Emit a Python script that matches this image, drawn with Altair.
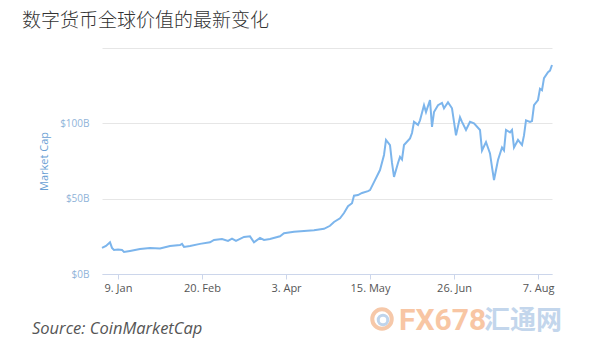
import altair as alt
import pandas as pd

# ---- data ----
dates = [
    "2017-01-01", "2017-01-03", "2017-01-05", "2017-01-06", "2017-01-07", "2017-01-09",
    "2017-01-11", "2017-01-12", "2017-01-15", "2017-01-20", "2017-01-25", "2017-01-30",
    "2017-02-04", "2017-02-09", "2017-02-10", "2017-02-11", "2017-02-14", "2017-02-19",
    "2017-02-24", "2017-02-26", "2017-03-02", "2017-03-05", "2017-03-07", "2017-03-09",
    "2017-03-13", "2017-03-16", "2017-03-18", "2017-03-21", "2017-03-23", "2017-03-26",
    "2017-03-31", "2017-04-02", "2017-04-07", "2017-04-12", "2017-04-17", "2017-04-22",
    "2017-04-25", "2017-04-27", "2017-04-30", "2017-05-02", "2017-05-04", "2017-05-06",
    "2017-05-07", "2017-05-09", "2017-05-11", "2017-05-14", "2017-05-15", "2017-05-17",
    "2017-05-20", "2017-05-22", "2017-05-23", "2017-05-25", "2017-05-26", "2017-05-27",
    "2017-05-29", "2017-05-30", "2017-05-31", "2017-06-01", "2017-06-04", "2017-06-05",
    "2017-06-06", "2017-06-08", "2017-06-09", "2017-06-10", "2017-06-11", "2017-06-12",
    "2017-06-14", "2017-06-15", "2017-06-16", "2017-06-18", "2017-06-20", "2017-06-21",
    "2017-06-23", "2017-06-25", "2017-06-26", "2017-06-27", "2017-06-29", "2017-06-30",
    "2017-07-02", "2017-07-04", "2017-07-06", "2017-07-09", "2017-07-10", "2017-07-12",
    "2017-07-14", "2017-07-15", "2017-07-16", "2017-07-18", "2017-07-20", "2017-07-21",
    "2017-07-22", "2017-07-24", "2017-07-25", "2017-07-26", "2017-07-28", "2017-07-30",
    "2017-07-31", "2017-08-01", "2017-08-03", "2017-08-04", "2017-08-05", "2017-08-07",
    "2017-08-08", "2017-08-09", "2017-08-10", "2017-08-12", "2017-08-13", "2017-08-14",
]
market_cap_b = [
    17.3, 18.6, 21.0, 17.3, 16.0, 16.2,
    16.0, 14.6, 15.3, 16.6, 17.3, 17.0,
    18.6, 19.2, 20.0, 18.0, 18.6, 20.0,
    21.0, 22.6, 23.2, 22.0, 23.5, 22.0,
    24.6, 25.0, 21.0, 24.0, 22.6, 23.2,
    25.0, 27.0, 28.0, 28.5, 29.0, 30.0,
    32.0, 34.5, 37.0, 40.5, 45.0, 47.0,
    52.0, 52.4, 53.8, 55.0, 55.7, 61.0,
    69.0, 79.0, 89.0, 85.6, 73.7, 64.4,
    73.7, 77.7, 76.0, 85.6, 90.0, 93.6,
    101.0, 99.0, 102.0, 107.0, 112.0, 107.5,
    115.5, 97.6, 107.5, 112.0, 113.5, 110.0,
    114.0, 110.0, 101.0, 92.0, 104.0, 101.0,
    95.6, 101.0, 100.0, 95.6, 82.0, 87.6,
    80.0, 71.0, 62.4, 75.7, 84.0, 82.0,
    95.6, 94.0, 95.6, 84.0, 89.0, 85.6,
    92.0, 102.0, 101.0, 101.5, 112.0, 115.5,
    123.0, 122.0, 130.0, 134.0, 135.0, 138.7,
]
x_tick_dates = [(1, 9), (2, 20), (4, 3), (5, 15), (6, 26), (8, 7)]
y_tick_values = [0, 50, 100, 150]
title_text = ["数字货币全球价值的最新变化"]
source_text = ["Source: CoinMarketCap"]
wm_latin = ["FX678"]
wm_cjk = ["汇通网"]
y_title = "Market Cap"

df = pd.DataFrame({"date": dates, "cap": market_cap_b})

x_enc = alt.X(
    "date:T",
    scale=alt.Scale(type="utc",
                    domain=[alt.DateTime(year=2017, month=1, date=1, utc=True),
                            alt.DateTime(year=2017, month=8, date=14, utc=True)]),
    axis=alt.Axis(
        values=[alt.DateTime(year=2017, month=m, date=d, utc=True) for m, d in x_tick_dates],
        labelExpr="utcFormat(datum.value, '%-d. %b')", title=None, grid=False,
        domainColor="#ccd6eb", tickColor="#ccd6eb", tickSize=5,
        labelColor="#555555", labelFontSize=11, labelFont="Open Sans",
        labelPadding=3,
    ),
)
y_enc = alt.Y(
    "cap:Q",
    scale=alt.Scale(domain=[0, 150], nice=False),
    axis=alt.Axis(
        values=y_tick_values,
        labelExpr="datum.value == 150 ? '' : '$' + datum.value + 'B'",
        title=y_title, titleColor="#6a9fd4", titleFontSize=11, titleFont="Open Sans",
        titleFontWeight="normal", titlePadding=10,
        labelColor="#8fb3d9", labelFontSize=10, labelFont="Open Sans", labelPadding=13,
        domain=False, ticks=False, gridColor="#e6e6e6", gridWidth=1,
    ),
)

line = alt.Chart(df).mark_line(color="#7cb5ec", strokeWidth=2).encode(x=x_enc, y=y_enc)

title = alt.Chart(pd.DataFrame({"t": title_text})).mark_text(
    align="left", baseline="alphabetic", fontSize=19, font="Noto Sans CJK SC",
    fontWeight=300, color="#333333"
).encode(x=alt.value(-80), y=alt.value(-21), text="t:N")

source = alt.Chart(pd.DataFrame({"t": source_text})).mark_text(
    align="left", baseline="alphabetic", fontSize=16.5, font="Open Sans", fontStyle="italic",
    color="#555555"
).encode(x=alt.value(-70), y=alt.value(286), text="t:N")

wm_circle = alt.Chart(pd.DataFrame({"t": wm_latin})).mark_point(
    shape="circle", size=380, filled=False, strokeWidth=4, color="#f6c3a0", opacity=0.9
).encode(x=alt.value(280), y=alt.value(271))

wm_circle2 = alt.Chart(pd.DataFrame({"t": wm_latin})).mark_point(
    shape="circle", size=90, filled=False, strokeWidth=3, color="#b9d0ea", opacity=0.9
).encode(x=alt.value(281), y=alt.value(272))

wm1 = alt.Chart(pd.DataFrame({"t": wm_latin})).mark_text(
    align="left", baseline="alphabetic", fontSize=30, font="'Liberation Sans Narrow', Roboto",
    fontWeight="bold", color="#f8c6a4"
).encode(x=alt.value(297), y=alt.value(282), text="t:N")

wm2 = alt.Chart(pd.DataFrame({"t": wm_cjk})).mark_text(
    align="left", baseline="alphabetic", fontSize=26, font="Noto Sans CJK SC", fontWeight="bold",
    color="#c3d6ec"
).encode(x=alt.value(382), y=alt.value(281), text="t:N")

chart = alt.layer(line, title, source, wm_circle, wm_circle2, wm1, wm2).properties(
    width=450, height=226,
    autosize=alt.AutoSizeParams(type="none"),
    padding={"left": 102, "top": 48, "right": 49, "bottom": 81},
    background="white",
).configure_view(stroke=None)

chart.save("out.html", embed_options={"renderer": "svg", "actions": False})
